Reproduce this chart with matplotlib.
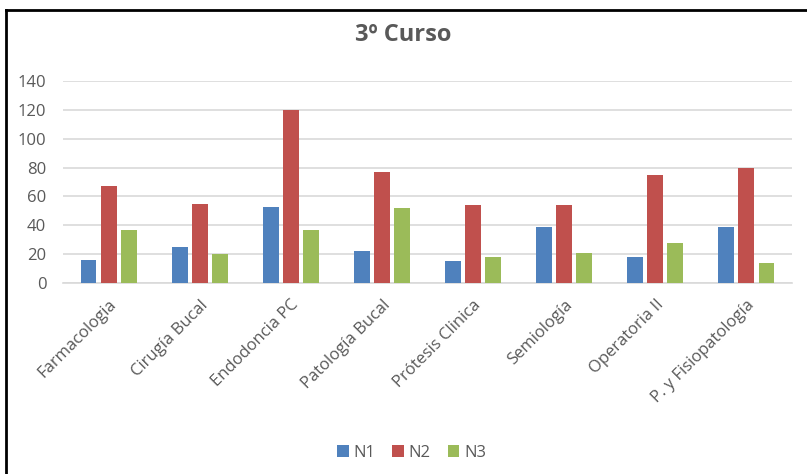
import numpy as np
import matplotlib
matplotlib.use("Agg")
import matplotlib.pyplot as plt
from matplotlib.lines import Line2D

materias = ["Farmacologia", "Cirugía Bucal", "Endodoncia PC", "Patología Bucal",
            "Prótesis Clinica", "Semiología", "Operatoria II", "P. y Fisiopatología"]
n1 = [16, 25, 53, 22, 15, 39, 18, 39]
n2 = [67, 55, 120, 77, 54, 54, 75, 80]
n3 = [37, 20, 37, 52, 18, 21, 28, 14]
series = ["N1", "N2", "N3"]
colores = ["#4F81BD", "#C0504D", "#9BBB59"]

plt.rcParams["font.family"] = ["Open Sans", "DejaVu Sans"]
txt = "#595959"

W, H = 807, 474
fig = plt.figure(figsize=(W / 100, H / 100), dpi=100)
ax = fig.add_axes([63 / W, (H - 283) / H, (792 - 63) / W, (283 - 81) / H])

x = np.arange(len(materias))
paso = 0.22
ancho = 0.175
for i, (vals, nombre, c) in enumerate(zip([n1, n2, n3], series, colores)):
    ax.bar(x + (i - 1) * paso, vals, width=ancho, color=c, label=nombre, zorder=3)

ax.set_xlim(-0.5, len(materias) - 0.5)
ax.set_ylim(0, 140)
ax.set_yticks(range(0, 141, 20))
ax.yaxis.grid(True, color="#D9D9D9", linewidth=1.2, zorder=0)
for s in ["top", "right", "left"]:
    ax.spines[s].set_visible(False)
ax.spines["bottom"].set_color("#D9D9D9")
ax.spines["bottom"].set_linewidth(1.2)
ax.tick_params(axis="both", length=0, colors=txt, labelsize=12)
ax.tick_params(axis="y", pad=12)
ax.set_xticks(x)
ax.set_xticklabels(materias, rotation=45, ha="right", rotation_mode="anchor")
ax.tick_params(axis="x", pad=10)

fig.text(0.5, 1 - 35 / H, "3º Curso", ha="center", va="center",
         fontsize=17, fontweight="bold", color=txt)

fig.legend(loc="center", bbox_to_anchor=(0.51, 1 - 453 / H), ncol=3, frameon=False,
           handlelength=0.7, handleheight=0.7, handletextpad=0.3, columnspacing=1.0,
           fontsize=12, labelcolor=txt)

# marco del grafico (solo arriba e izquierda)
fig.add_artist(Line2D([6 / W, 1], [1 - 10 / H, 1 - 10 / H], color="black", linewidth=2))
fig.add_artist(Line2D([6 / W, 6 / W], [0, 1 - 10 / H], color="black", linewidth=2))

fig.savefig("out.png", dpi=100)
